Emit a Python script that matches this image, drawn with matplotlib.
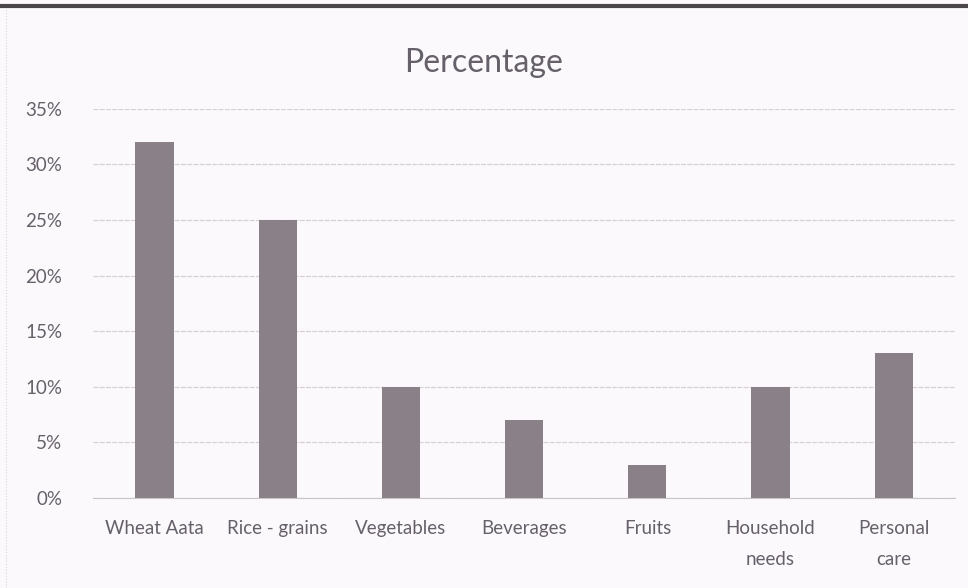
import matplotlib.pyplot as plt
import numpy as np
from matplotlib.ticker import PercentFormatter

categories = ["Wheat Aata", "Rice - grains", "Vegetables", "Beverages",
              "Fruits", "Household\nneeds", "Personal\ncare"]
values = [0.32, 0.25, 0.10, 0.07, 0.03, 0.10, 0.13]
yticks = [0.0, 0.05, 0.10, 0.15, 0.20, 0.25, 0.30, 0.35]

plt.rcParams["font.family"] = ["Lato", "DejaVu Sans"]
text_color = "#66606a"
bg = "#fcf9fc"

fig = plt.figure(figsize=(9.68, 5.88), dpi=100, facecolor=bg)
ax = fig.add_axes([0.096, 0.153, 0.891, 0.662], facecolor=bg)

x = np.arange(len(categories))
ax.bar(x, values, width=0.31, color="#8a8088", zorder=3)

ax.set_xlim(-0.5, len(categories) - 0.5)
ax.set_ylim(0, 0.35)
ax.set_yticks(yticks)
ax.yaxis.set_major_formatter(PercentFormatter(1.0, decimals=0))
ax.set_xticks(x)
ax.set_xticklabels(categories, linespacing=2.0)
ax.tick_params(axis="both", length=0, colors=text_color, labelsize=13.5)
ax.tick_params(axis="y", pad=22)
ax.tick_params(axis="x", pad=16)

ax.grid(axis="y", color="#d6d1d5", lw=0.9, ls=(0, (4, 1)), zorder=0)
for side in ["top", "right", "left"]:
    ax.spines[side].set_visible(False)
ax.spines["bottom"].set_color("#c9c4c8")

fig.text(0.5, 0.893, "Percentage", ha="center", va="center",
         fontsize=23, color=text_color)

# scanned page border at the top and left edge
fig.add_artist(plt.Line2D([0, 1], [0.99, 0.99], color="#4a464a", lw=3,
                          transform=fig.transFigure))
fig.add_artist(plt.Line2D([0.006, 0.006], [0.0, 0.985], color="#d8d4d8",
                          lw=0.8, ls=":", transform=fig.transFigure))

fig.savefig("out.png", dpi=100, facecolor=bg)
